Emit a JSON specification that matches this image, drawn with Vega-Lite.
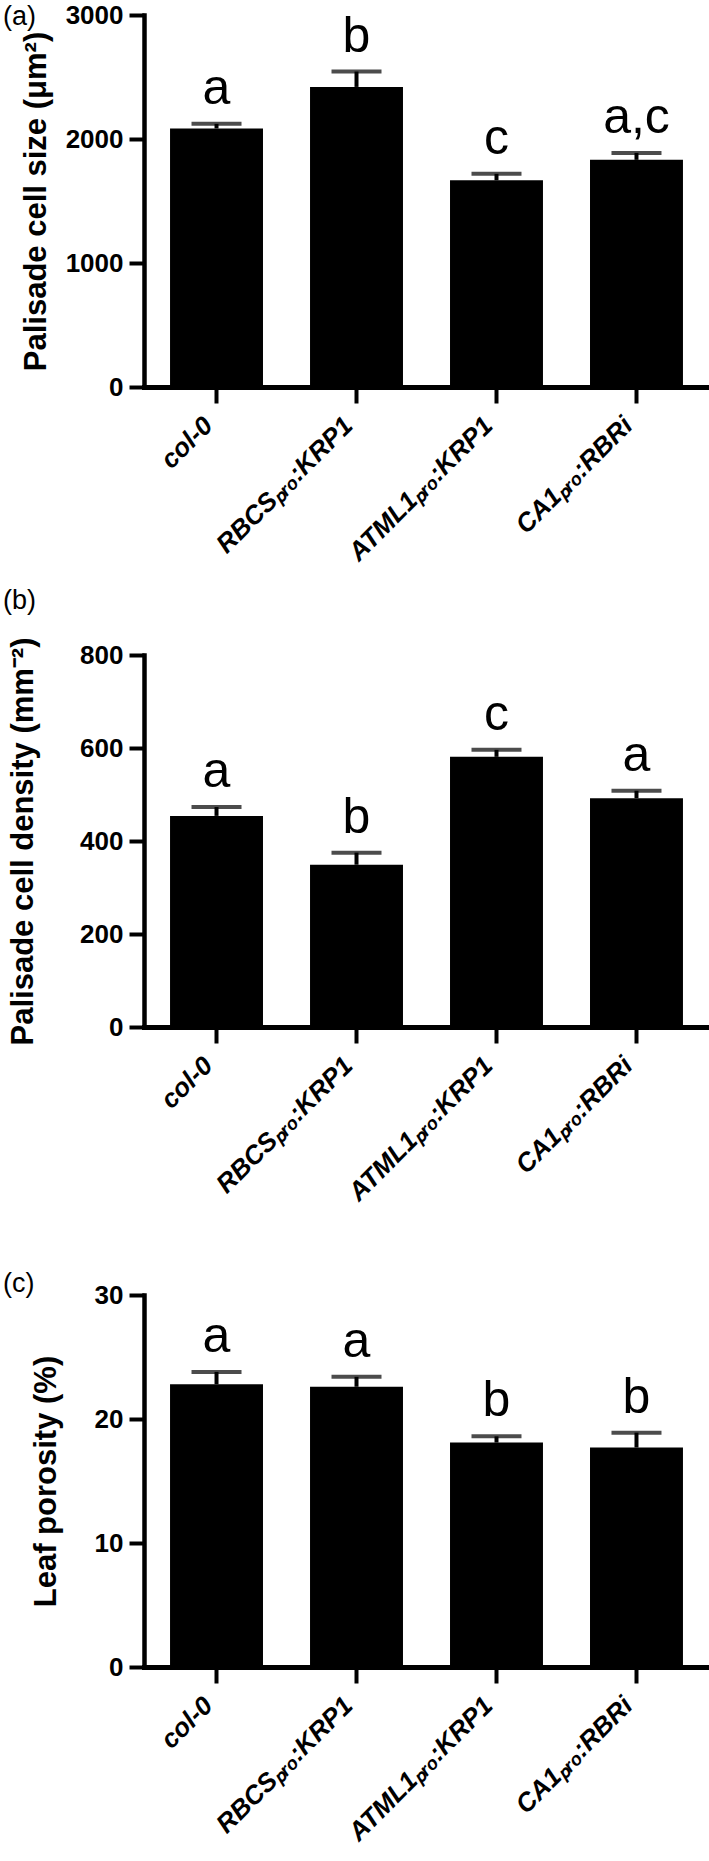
{
  "$schema": "https://vega.github.io/schema/vega-lite/v6.json",
  "padding": {"left": 3, "top": 2, "right": 0, "bottom": 5},
  "background": "white",
  "datasets": {
    "a": [
      {"genotype": "col-0", "value": 2085, "err": 2122, "letter": "a"},
      {"genotype": "RBCSₚᵣₒ:KRP1", "value": 2420, "err": 2544, "letter": "b"},
      {"genotype": "ATML1ₚᵣₒ:KRP1", "value": 1667, "err": 1719, "letter": "c"},
      {"genotype": "CA1ₚᵣₒ:RBRi", "value": 1832, "err": 1888, "letter": "a,c"}
    ],
    "b": [
      {"genotype": "col-0", "value": 454, "err": 473, "letter": "a"},
      {"genotype": "RBCSₚᵣₒ:KRP1", "value": 349, "err": 375, "letter": "b"},
      {"genotype": "ATML1ₚᵣₒ:KRP1", "value": 581, "err": 596, "letter": "c"},
      {"genotype": "CA1ₚᵣₒ:RBRi", "value": 492, "err": 508, "letter": "a"}
    ],
    "c": [
      {"genotype": "col-0", "value": 22.8, "err": 23.8, "letter": "a"},
      {"genotype": "RBCSₚᵣₒ:KRP1", "value": 22.6, "err": 23.4, "letter": "a"},
      {"genotype": "ATML1ₚᵣₒ:KRP1", "value": 18.1, "err": 18.6, "letter": "b"},
      {"genotype": "CA1ₚᵣₒ:RBRi", "value": 17.7, "err": 18.9, "letter": "b"}
    ]
  },
  "spacing": 268,
  "bounds": "flush",
  "vconcat": [
    {
      "width": 565, "height": 372,
      "data": {"name": "a"},
      "title": {"text": "(a)", "anchor": "start", "frame": "group", "orient": "top", "dx": -141, "offset": -41.5, "baseline": "middle", "align": "left", "fontSize": 27, "fontWeight": "normal", "font": "Liberation Sans", "color": "black"},
      "encoding": {"x": {"field": "genotype", "type": "nominal", "sort": null, "scale": {"paddingInner": 0.336, "paddingOuter": 0.186}, "axis": {"title": null}}},
      "layer": [
        {"mark": {"type": "bar", "color": "black"}, "encoding": {"y": {"field": "value", "type": "quantitative", "scale": {"domain": [0, 3000]}, "axis": {"title": "Palisade cell size (μm²)", "values": [0, 1000, 2000, 3000], "format": "d", "titlePadding": 13}}}},
        {"mark": {"type": "rule", "color": "black", "strokeWidth": 4}, "encoding": {"y": {"field": "value", "type": "quantitative"}, "y2": {"field": "err"}}},
        {"mark": {"type": "tick", "color": "black", "size": 50, "thickness": 4}, "encoding": {"y": {"field": "err", "type": "quantitative"}}},
        {"mark": {"type": "text", "fontSize": 50, "dy": -20, "baseline": "alphabetic", "font": "Liberation Sans", "color": "black"}, "encoding": {"y": {"field": "err", "type": "quantitative"}, "text": {"field": "letter"}}}
      ]
    },
    {
      "width": 565, "height": 372,
      "data": {"name": "b"},
      "title": {"text": "(b)", "anchor": "start", "frame": "group", "orient": "top", "dx": -141, "offset": 9.5, "baseline": "middle", "align": "left", "fontSize": 27, "fontWeight": "normal", "font": "Liberation Sans", "color": "black"},
      "encoding": {"x": {"field": "genotype", "type": "nominal", "sort": null, "scale": {"paddingInner": 0.336, "paddingOuter": 0.186}, "axis": {"title": null}}},
      "layer": [
        {"mark": {"type": "bar", "color": "black"}, "encoding": {"y": {"field": "value", "type": "quantitative", "scale": {"domain": [0, 800]}, "axis": {"title": "Palisade cell density (mm⁻²)", "values": [0, 200, 400, 600, 800], "format": "d", "titlePadding": 40}}}},
        {"mark": {"type": "rule", "color": "black", "strokeWidth": 4}, "encoding": {"y": {"field": "value", "type": "quantitative"}, "y2": {"field": "err"}}},
        {"mark": {"type": "tick", "color": "black", "size": 50, "thickness": 4}, "encoding": {"y": {"field": "err", "type": "quantitative"}}},
        {"mark": {"type": "text", "fontSize": 50, "dy": -20, "baseline": "alphabetic", "font": "Liberation Sans", "color": "black"}, "encoding": {"y": {"field": "err", "type": "quantitative"}, "text": {"field": "letter"}}}
      ]
    },
    {
      "width": 565, "height": 372,
      "data": {"name": "c"},
      "title": {"text": "(c)", "anchor": "start", "frame": "group", "orient": "top", "dx": -141, "offset": -28.5, "baseline": "middle", "align": "left", "fontSize": 27, "fontWeight": "normal", "font": "Liberation Sans", "color": "black"},
      "encoding": {"x": {"field": "genotype", "type": "nominal", "sort": null, "scale": {"paddingInner": 0.336, "paddingOuter": 0.186}, "axis": {"title": null}}},
      "layer": [
        {"mark": {"type": "bar", "color": "black"}, "encoding": {"y": {"field": "value", "type": "quantitative", "scale": {"domain": [0, 30]}, "axis": {"title": "Leaf porosity (%)", "values": [0, 10, 20, 30], "format": "d", "titlePadding": 32}}}},
        {"mark": {"type": "rule", "color": "black", "strokeWidth": 4}, "encoding": {"y": {"field": "value", "type": "quantitative"}, "y2": {"field": "err"}}},
        {"mark": {"type": "tick", "color": "black", "size": 50, "thickness": 4}, "encoding": {"y": {"field": "err", "type": "quantitative"}}},
        {"mark": {"type": "text", "fontSize": 50, "dy": -20, "baseline": "alphabetic", "font": "Liberation Sans", "color": "black"}, "encoding": {"y": {"field": "err", "type": "quantitative"}, "text": {"field": "letter"}}}
      ]
    }
  ],
  "config": {
    "view": {"stroke": null},
    "font": "Liberation Sans",
    "axis": {
      "domainColor": "black", "domainWidth": 4.5, "domainCap": "square",
      "tickColor": "black", "tickWidth": 4, "tickSize": 15,
      "labelColor": "black", "labelFont": "Liberation Sans", "labelFontWeight": "bold", "labelFontSize": 26, "labelPadding": 6,
      "titleColor": "black", "titleFont": "Liberation Sans", "titleFontWeight": "bold", "titleFontSize": 31,
      "grid": false
    },
    "axisX": {
      "labelAngle": -45, "labelFontStyle": "italic", "labelFontSize": 26, "labelAlign": "right", "labelBaseline": "middle",
      "labelPadding": 18, "labelOffset": -8, "tickSize": 16, "domainWidth": 5, "labelLimit": 400
    }
  }
}
